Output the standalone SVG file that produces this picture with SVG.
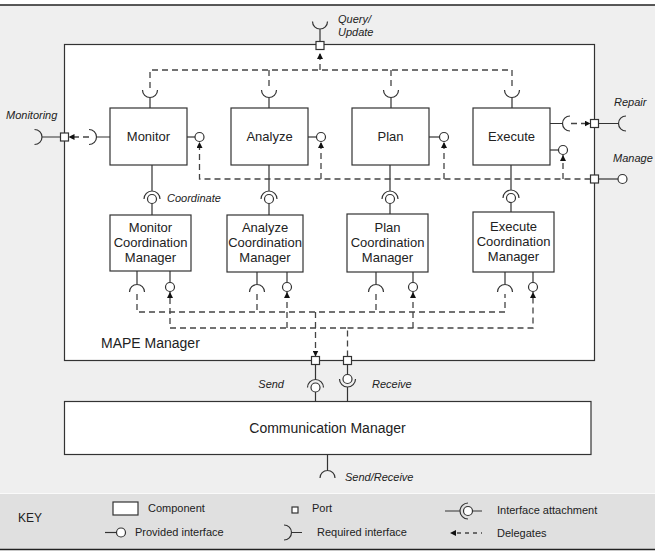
<svg xmlns="http://www.w3.org/2000/svg" width="655" height="551" viewBox="0 0 655 551">
<style>
text{font-family:"Liberation Sans",Arial,sans-serif;fill:#222}
.lbl{font-size:13px;text-anchor:middle}
.big{font-size:14px}
.it{font-size:11px;font-style:italic}
.key{font-size:11px}
.box{fill:#fff;stroke:#333;stroke-width:1.2}
.ln{fill:none;stroke:#333;stroke-width:1.2}
.ball{fill:#fff;stroke:#333;stroke-width:1.2}
.port{fill:#fff;stroke:#333;stroke-width:1.2}
.dash{fill:none;stroke:#444;stroke-width:1.3;stroke-dasharray:6,4}
</style>
<defs>
<marker id="arr" markerUnits="userSpaceOnUse" markerWidth="7" markerHeight="6" refX="6" refY="3" orient="auto">
<path d="M0,0 L6,3 L0,6 z" fill="#111"/>
</marker>
</defs>
<rect x="0" y="0" width="655" height="551" fill="#fff"/>
<rect x="0" y="5" width="655" height="488" fill="#efefef"/>
<rect x="0" y="493" width="655" height="57" fill="#e0e0e0"/>
<line x1="0" y1="493.5" x2="655" y2="493.5" stroke="#fafafa" stroke-width="1"/>
<line x1="0" y1="5" x2="655" y2="5" stroke="#222" stroke-width="1.5"/>
<line x1="0" y1="549.5" x2="655" y2="549.5" stroke="#222" stroke-width="1.5"/>

<g id="mape-manager">
<rect class="box" x="64.5" y="44.5" width="530" height="316"/>
<text class="big" x="101" y="348">MAPE Manager</text>
</g>

<g id="monitor">
<rect class="box" x="110" y="108" width="77" height="57"/>
<text class="lbl" x="148.5" y="141">Monitor</text>
</g>
<g id="analyze">
<rect class="box" x="231" y="108" width="77" height="57"/>
<text class="lbl" x="269.5" y="141">Analyze</text>
</g>
<g id="plan">
<rect class="box" x="352" y="108" width="77" height="57"/>
<text class="lbl" x="390.5" y="141">Plan</text>
</g>
<g id="execute">
<rect class="box" x="473" y="108" width="77" height="57"/>
<text class="lbl" x="511.5" y="141">Execute</text>
</g>

<g id="monitor-cm">
<rect class="box" x="110" y="215" width="81" height="56"/>
<text class="lbl" x="150.5" y="232">Monitor</text>
<text class="lbl" x="150.5" y="247">Coordination</text>
<text class="lbl" x="150.5" y="262">Manager</text>
</g>
<g id="analyze-cm">
<rect class="box" x="227" y="215" width="76" height="57"/>
<text class="lbl" x="265" y="232">Analyze</text>
<text class="lbl" x="265" y="247">Coordination</text>
<text class="lbl" x="265" y="262">Manager</text>
</g>
<g id="plan-cm">
<rect class="box" x="347" y="214" width="81" height="58"/>
<text class="lbl" x="387.5" y="232">Plan</text>
<text class="lbl" x="387.5" y="247">Coordination</text>
<text class="lbl" x="387.5" y="262">Manager</text>
</g>
<g id="execute-cm">
<rect class="box" x="473" y="212" width="81" height="60"/>
<text class="lbl" x="513.5" y="231">Execute</text>
<text class="lbl" x="513.5" y="245.5">Coordination</text>
<text class="lbl" x="513.5" y="260.5">Manager</text>
</g>

<g id="communication-manager">
<rect class="box" x="64.5" y="401.5" width="526.5" height="53"/>
<text class="big" x="327.5" y="433" text-anchor="middle">Communication Manager</text>
</g>

<g id="ports">
<rect class="port" x="316" y="41.5" width="8" height="8"/>
<rect class="port" x="60.5" y="133" width="8" height="8"/>
<rect class="port" x="590.5" y="119.5" width="8" height="8"/>
<rect class="port" x="590.5" y="175" width="8" height="8"/>
<rect class="port" x="311.5" y="356.5" width="8" height="8"/>
<rect class="port" x="343.5" y="356.5" width="8" height="8"/>
</g>

<g id="interfaces">
<!-- Query/Update external -->
<path class="ln" d="M320,41.5 V29 M312.5,21.5 A7.5,7.5 0 0,0 327.5,21.5"/>
<!-- top cups -->
<path class="ln" d="M150,108 V97.5 M142.5,90 A7.5,7.5 0 0,0 157.5,90"/>
<path class="ln" d="M269,108 V97.5 M261.5,90 A7.5,7.5 0 0,0 276.5,90"/>
<path class="ln" d="M391,108 V97.5 M383.5,90 A7.5,7.5 0 0,0 398.5,90"/>
<path class="ln" d="M512,108 V97.5 M504.5,90 A7.5,7.5 0 0,0 519.5,90"/>
<!-- Monitoring -->
<path class="ln" d="M110,137 H96.5 M89,129.5 A7.5,7.5 0 0,1 89,144.5"/>
<path class="ln" d="M60.5,137 H42 M34.5,129.5 A7.5,7.5 0 0,1 34.5,144.5"/>
<!-- provided right -->
<path class="ln" d="M187,137 H195"/><circle class="ball" cx="199.5" cy="137" r="4.5"/>
<path class="ln" d="M308,137 H316.5"/><circle class="ball" cx="321" cy="137" r="4.5"/>
<path class="ln" d="M429,137 H439.5"/><circle class="ball" cx="444" cy="137" r="4.5"/>
<path class="ln" d="M550,150 H558.5"/><circle class="ball" cx="563" cy="150" r="4.5"/>
<!-- Repair -->
<path class="ln" d="M550,123.5 H562.5 M570,116 A7.5,7.5 0 0,0 570,131"/>
<path class="ln" d="M598.5,123.5 H618.5 M626,116 A7.5,7.5 0 0,0 626,131"/>
<!-- Manage -->
<path class="ln" d="M598.5,179 H618"/><circle class="ball" cx="622.5" cy="179" r="4.5"/>
<!-- Coordinate attachments -->
<path class="ln" d="M152,165 V191 M144,199 A8,8 0 0,1 160,199 M152,203.5 V215"/><circle class="ball" cx="152" cy="199" r="4.5"/>
<path class="ln" d="M269,165 V191 M261,199 A8,8 0 0,1 277,199 M269,203.5 V215"/><circle class="ball" cx="269" cy="199" r="4.5"/>
<path class="ln" d="M390,165 V191 M382,199 A8,8 0 0,1 398,199 M390,203.5 V214"/><circle class="ball" cx="390" cy="199" r="4.5"/>
<path class="ln" d="M511,165 V190 M503,198 A8,8 0 0,1 519,198 M511,202.5 V212"/><circle class="ball" cx="511" cy="198" r="4.5"/>
<!-- CM bottom interfaces -->
<path class="ln" d="M137,271 V284.5 M129.5,292 A7.5,7.5 0 0,1 144.5,292"/>
<path class="ln" d="M170,271 V282.5"/><circle class="ball" cx="170" cy="287" r="4.5"/>
<path class="ln" d="M257,272 V284.5 M249.5,292 A7.5,7.5 0 0,1 264.5,292"/>
<path class="ln" d="M287,272 V282.5"/><circle class="ball" cx="287" cy="287" r="4.5"/>
<path class="ln" d="M376,272 V284.5 M368.5,292 A7.5,7.5 0 0,1 383.5,292"/>
<path class="ln" d="M413,272 V282.5"/><circle class="ball" cx="413" cy="287" r="4.5"/>
<path class="ln" d="M505,272 V284.5 M497.5,292 A7.5,7.5 0 0,1 512.5,292"/>
<path class="ln" d="M533,272 V282.5"/><circle class="ball" cx="533" cy="287" r="4.5"/>
<!-- Send / Receive -->
<path class="ln" d="M315.5,364.5 V379.5 M307.5,387.5 A8,8 0 0,1 323.5,387.5 M315.5,392 V401.5"/><circle class="ball" cx="315.5" cy="387.5" r="4.5"/>
<path class="ln" d="M347.5,364.5 V374.5 M339.5,379 A8,8 0 0,0 355.5,379 M347.5,387 V401.5"/><circle class="ball" cx="347.5" cy="379" r="4.5"/>
<!-- Send/Receive external -->
<path class="ln" d="M327.5,454.5 V470.5 M320,478 A7.5,7.5 0 0,1 335,478"/>
</g>

<g id="connectors">
<path class="dash" d="M150,88 V70 H512 V88"/>
<path class="dash" d="M269,70 V88"/>
<path class="dash" d="M391,70 V88"/>
<path class="dash" d="M320,70 V53" marker-end="url(#arr)"/>
<path class="dash" d="M89,137 H68.5" marker-end="url(#arr)"/>
<path class="dash" d="M571,123.5 H590.5" marker-end="url(#arr)"/>
<path class="dash" d="M590.5,179 H199.5 V142" marker-end="url(#arr)"/>
<path class="dash" d="M321,179 V142" marker-end="url(#arr)"/>
<path class="dash" d="M444,179 V142" marker-end="url(#arr)"/>
<path class="dash" d="M563,179 V155" marker-end="url(#arr)"/>
<path class="dash" d="M137,294 V312 H505 V294"/>
<path class="dash" d="M257,294 V312"/>
<path class="dash" d="M376,294 V312"/>
<path class="dash" d="M315.5,312 V356.5" marker-end="url(#arr)"/>
<path class="dash" d="M347.5,356.5 V328 H170 V292" marker-end="url(#arr)"/>
<path class="dash" d="M287,328 V292" marker-end="url(#arr)"/>
<path class="dash" d="M413,328 V292" marker-end="url(#arr)"/>
<path class="dash" d="M347.5,328 H533 V292" marker-end="url(#arr)"/>
</g>

<g id="labels">
<text class="it" x="338" y="23">Query/</text>
<text class="it" x="338" y="36">Update</text>
<text class="it" x="6" y="119">Monitoring</text>
<text class="it" x="614" y="106">Repair</text>
<text class="it" x="613" y="162">Manage</text>
<text class="it" x="167" y="202">Coordinate</text>
<text class="it" x="284" y="388" text-anchor="end">Send</text>
<text class="it" x="372" y="388">Receive</text>
<text class="it" x="345" y="481">Send/Receive</text>
</g>

<g id="key">
<text x="18" y="522" style="font-size:12px">KEY</text>
<rect class="box" x="113" y="502" width="25" height="13"/>
<text class="key" x="148" y="512">Component</text>
<path class="ln" d="M105,532.5 H116.5"/><circle class="ball" cx="121" cy="532.5" r="4.5"/>
<text class="key" x="135" y="536">Provided interface</text>
<rect class="port" x="292" y="507" width="6" height="6"/>
<text class="key" x="312" y="512">Port</text>
<path class="ln" d="M284,525 A7.5,7.5 0 0,1 284,540 M291.5,532.5 H302"/>
<text class="key" x="317" y="536">Required interface</text>
<path class="ln" d="M445,511 H460 M468,503 A8,8 0 0,0 468,519 M472.5,511 H482"/><circle class="ball" cx="468" cy="511" r="4.5"/>
<text class="key" x="497" y="514">Interface attachment</text>
<path d="M457,533 H482" fill="none" stroke="#444" stroke-width="1.3" stroke-dasharray="4,4"/>
<path d="M456,530 L450,533 L456,536 z" fill="#111"/>
<text class="key" x="497" y="537">Delegates</text>
</g>
</svg>
